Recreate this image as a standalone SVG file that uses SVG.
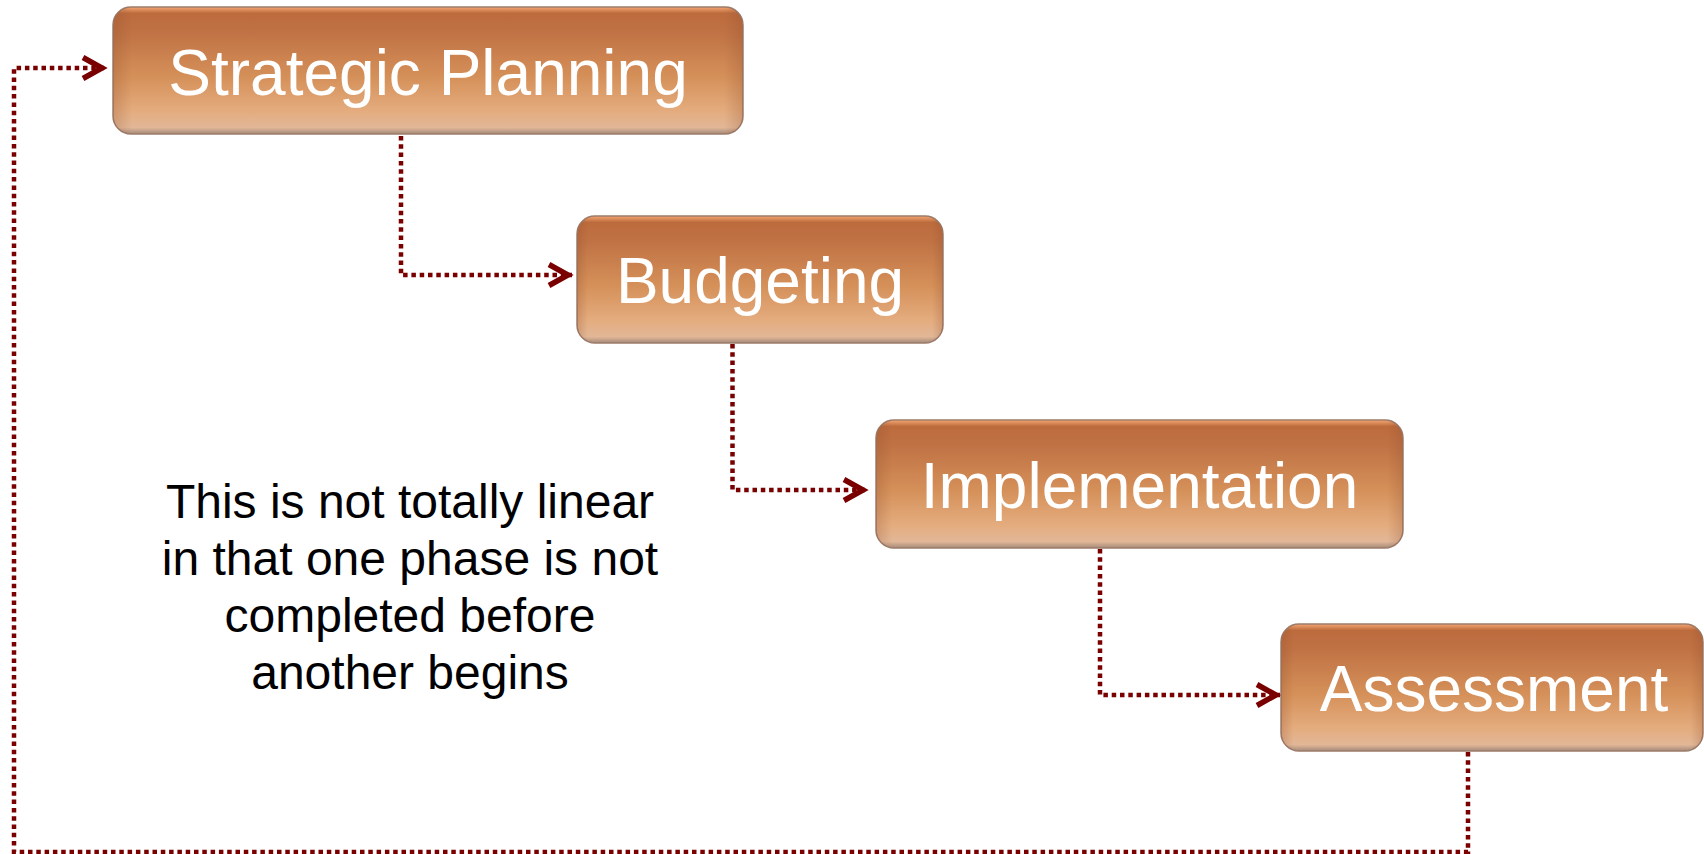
<svg xmlns="http://www.w3.org/2000/svg" width="1704" height="854" viewBox="0 0 1704 854">
  <style>
    .box { fill: url(#boxGrad); stroke: #9c7c6a; stroke-width: 1.5; }
    .edge { fill: url(#edgeGrad); stroke: none; }
    .label { font-family: "Liberation Sans", Arial, sans-serif; font-size: 64px; fill: #ffffff; text-anchor: middle; }
    .note { font-family: "Liberation Sans", Arial, sans-serif; font-size: 48px; fill: #000000; text-anchor: middle; }
    .conn { fill: none; stroke: #7a0000; stroke-width: 4.5; stroke-dasharray: 4.5 3.8; marker-end: url(#chev); }
  </style>
  <defs>
    <linearGradient id="boxGrad" x1="0" y1="0" x2="0" y2="1">
      <stop offset="0" stop-color="#f6a672"/>
      <stop offset="0.05" stop-color="#bc6b3d"/>
      <stop offset="0.2" stop-color="#c07244"/>
      <stop offset="0.55" stop-color="#d59059"/>
      <stop offset="0.82" stop-color="#e4ac7e"/>
      <stop offset="0.95" stop-color="#e2b797"/>
      <stop offset="1" stop-color="#a58a7a"/>
    </linearGradient>
    <linearGradient id="edgeGrad" x1="0" y1="0" x2="1" y2="0">
      <stop offset="0" stop-color="#8a4a2a" stop-opacity="0.25"/>
      <stop offset="0.03" stop-color="#8a4a2a" stop-opacity="0"/>
      <stop offset="0.97" stop-color="#8a4a2a" stop-opacity="0"/>
      <stop offset="1" stop-color="#8a4a2a" stop-opacity="0.25"/>
    </linearGradient>
    <marker id="chev" markerUnits="userSpaceOnUse" markerWidth="34" markerHeight="34" viewBox="-26 -17 34 34" refX="0" refY="0" orient="auto">
      <path d="M-23,-10.5 L-4,0 L-23,10.5" fill="none" stroke="#7a0000" stroke-width="5.5" stroke-dasharray="none"/>
    </marker>
  </defs>
  <rect width="1704" height="854" fill="#ffffff"/>

  <g id="connectors">
    <path class="conn" d="M401,136 V275 H572"/>
    <path class="conn" d="M732.5,344 V490 H867"/>
    <path class="conn" d="M1100,549 V695 H1280"/>
    <path class="conn" d="M1468,752 V852 H14 V68 H106"/>
  </g>

  <g id="node-strategic-planning">
    <rect class="box" x="113" y="7" width="630" height="127" rx="18"/>
    <rect class="edge" x="113" y="7" width="630" height="127" rx="18"/>
    <text class="label" x="428" y="95">Strategic Planning</text>
  </g>

  <g id="node-budgeting">
    <rect class="box" x="577" y="216" width="366" height="127" rx="18"/>
    <rect class="edge" x="577" y="216" width="366" height="127" rx="18"/>
    <text class="label" x="760" y="303">Budgeting</text>
  </g>

  <g id="node-implementation">
    <rect class="box" x="876" y="420" width="527" height="128" rx="18"/>
    <rect class="edge" x="876" y="420" width="527" height="128" rx="18"/>
    <text class="label" x="1139.5" y="508">Implementation</text>
  </g>

  <g id="node-assessment">
    <rect class="box" x="1281" y="624" width="422" height="127" rx="18"/>
    <rect class="edge" x="1281" y="624" width="422" height="127" rx="18"/>
    <text class="label" x="1494" y="711">Assessment</text>
  </g>

  <g id="note">
    <text class="note" x="410" y="518">This is not totally linear</text>
    <text class="note" x="410" y="575">in that one phase is not</text>
    <text class="note" x="410" y="632">completed before</text>
    <text class="note" x="410" y="689">another begins</text>
  </g>
</svg>
